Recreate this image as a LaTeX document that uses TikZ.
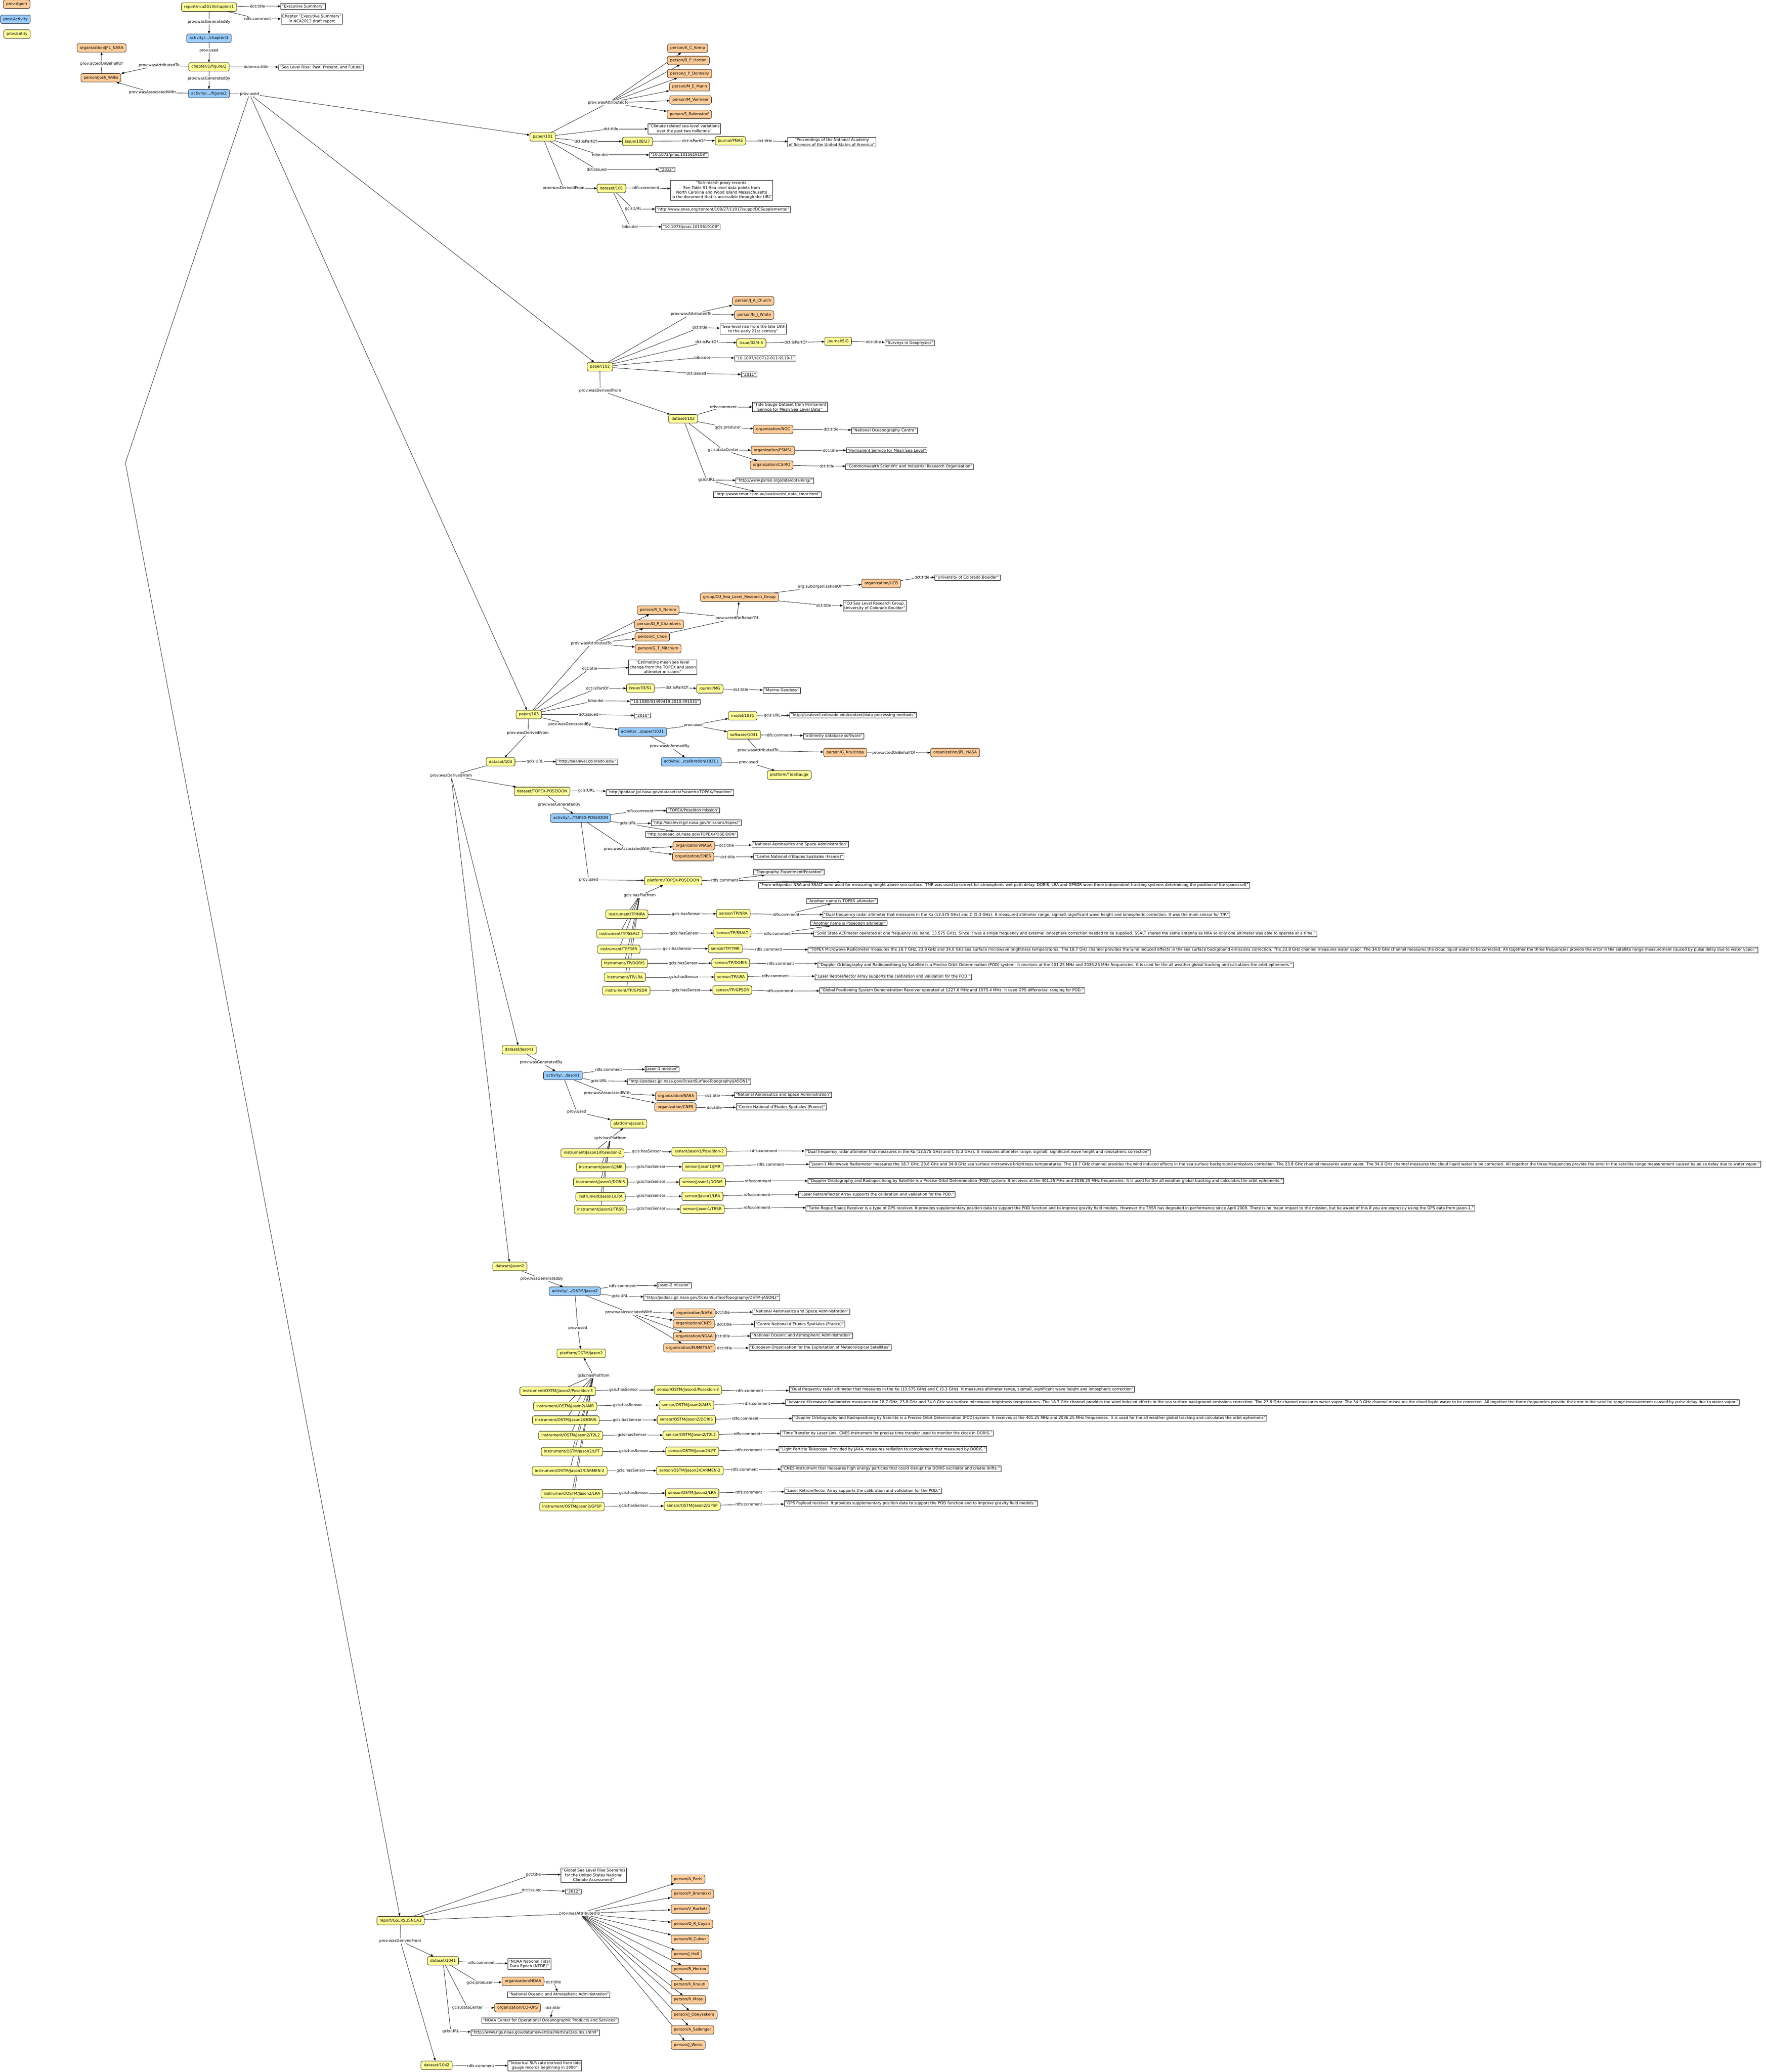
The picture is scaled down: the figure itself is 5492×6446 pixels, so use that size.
\documentclass[tikz,border=0pt]{standalone}
\usepackage{fontspec}
\setmainfont{DejaVu Sans}
\usepackage{xcolor}
\usetikzlibrary{arrows.meta}
\definecolor{agentorange}{RGB}{255, 204, 153}
\definecolor{activityblue}{RGB}{153, 204, 255}
\definecolor{entityyellow}{RGB}{255, 255, 153}
\definecolor{textblack}{RGB}{0, 0, 0}
\pgfdeclarelayer{paper}
\pgfdeclarelayer{edges}
\pgfsetlayers{paper,edges,main}
\begin{document}
\begin{tikzpicture}[
        x=0.75pt, y=-0.75pt,
        every node/.style={font=\fontsize{9}{11}\selectfont, text=textblack},
        agent/.style={rectangle, rounded corners=4pt, draw=black, line width=0.75pt, fill=agentorange, minimum height=20pt, inner xsep=6.5pt},
        activity/.style={rectangle, rounded corners=4pt, draw=black, line width=0.75pt, fill=activityblue, minimum height=20pt, inner xsep=6.5pt},
        entity/.style={rectangle, rounded corners=4pt, draw=black, line width=0.75pt, fill=entityyellow, minimum height=20pt, inner xsep=6.5pt},
        literal/.style={rectangle, draw=black, line width=0.75pt, fill=white, inner xsep=2.5pt, inner ysep=2.3pt, align=center, anchor=west},
        rel/.style={inner sep=1.5pt},
        link/.style={line width=0.75pt},
        flow/.style={-{Triangle[length=6.5pt, width=5pt]}, line width=0.75pt}
    ]

    \begin{pgfonlayer}{paper}
    \fill[white] (0,0) rectangle (5492,6446);
    \end{pgfonlayer}
    \useasboundingbox (0,0) rectangle (5492,6446);

    % Legend
    \node[agent] (leg_agent) at (52,13) {prov:Agent};
    \node[activity] (leg_activity) at (48,60) {prov:Activity};
    \node[entity] (leg_entity) at (53,106) {prov:Entity};

    % Chapter and figure
    \node[entity] (ch1) at (650,22) {report/nca2013/chapter/1};
    \node[rel] (ch1_title) at (801,19) {dct:title};
    \node[literal] (ch1_title_lit) at (873,20) {"Executive Summary"};
    \node[rel] (ch1_comment) at (801,58) {rdfs:comment};
    \node[literal] (ch1_comment_lit) at (874,59) {Chapter "Executive Summary"\\ in NCA2013 draft report};
    \node[rel] (ch1_gen) at (650,68) {prov:wasGeneratedBy};
    \node[activity] (act_ch1) at (650,119) {activity/.../chapter/1};
    \node[rel] (act_ch1_used) at (650,157) {prov:used};
    \node[entity] (fig2) at (650,208) {chapter/1/figure/2};
    \node[rel] (fig2_title) at (797,208) {dcterms:title};
    \node[literal] (fig2_title_lit) at (866,210) {"Sea Level Rise: Past, Present, and Future"};
    \node[rel] (fig2_gen) at (650,245) {prov:wasGeneratedBy};
    \node[activity] (act_fig2) at (650,291) {activity/.../figure/2};
    \node[rel] (fig2_attr) at (495,203) {prov:wasAttributedTo};
    \node[rel] (act_fig2_assoc) at (474,288) {prov:wasAssociatedWith};
    \node[agent] (willis) at (314,242) {person/Josh\_Willis};
    \node[rel] (willis_behalf) at (316,199) {prov:actedOnBehalfOf};
    \node[agent] (jpl1) at (316,149) {organization/JPL\_NASA};
    \node[rel] (act_fig2_used) at (776,292) {prov:used};
    \coordinate (used_bend) at (390,1440);

    % Paper 101
    \node[entity] (p101) at (1688,426) {paper/101};
    \node[rel] (p101_attr) at (1892,320) {prov:wasAttributedTo};
    \node[agent] (kemp) at (2139,150) {person/A\_C\_Kemp};
    \node[agent] (horton_bp) at (2141,188) {person/B\_P\_Horton};
    \node[agent] (donnelly) at (2145,229) {person/J\_P\_Donnelly};
    \node[agent] (mann) at (2145,270) {person/M\_E\_Mann};
    \node[agent] (vermeer) at (2148,311) {person/M\_Vermeer};
    \node[agent] (rahmstorf) at (2144,356) {person/S\_Rahmstorf};
    \node[rel] (p101_title) at (1900,401) {dct:title};
    \node[literal] (p101_title_lit) at (2015,401) {"Climate related sea-level variations\\ over the past two millennia"};
    \node[rel] (p101_part) at (1822,440) {dct:isPartOf};
    \node[entity] (iss101) at (1983,440) {issue/108/27};
    \node[rel] (iss101_part) at (2157,438) {dct:isPartOf};
    \node[entity] (pnas) at (2272,438) {journal/PNAS};
    \node[rel] (pnas_title) at (2379,439) {dct:title};
    \node[literal] (pnas_title_lit) at (2450,442) {"Proceedings of the National Academy\\ of Sciences of the United States of America"};
    \node[rel] (p101_doi) at (1866,482) {bibo:doi};
    \node[literal] (p101_doi_lit) at (2020,482) {"10.1073/pnas.1015619108"};
    \node[rel] (p101_issued) at (1856,527) {dct:issued};
    \node[literal] (p101_issued_lit) at (2049,527) {"2012"};
    \node[rel] (p101_der) at (1753,585) {prov:wasDerivedFrom};
    \node[entity] (ds101) at (1902,586) {dataset/101};
    \node[rel] (ds101_comment) at (2009,584) {rdfs:comment};
    \node[literal] (ds101_comment_lit) at (2085,592) {"Salt-marsh proxy records.\\ See Table S1 Sea-level data points from\\ North Carolina and Wood Island Massachusetts\\ in the document that is accessible through the URL"};
    \node[rel] (ds101_url) at (1970,650) {gcis:URL};
    \node[literal] (ds101_url_lit) at (2038,652) {"http://www.pnas.org/content/108/27/11017/suppl/DCSupplemental"};
    \node[rel] (ds101_doi) at (1960,705) {bibo:doi};
    \node[literal] (ds101_doi_lit) at (2058,706) {"10.1073/pnas.1015619108"};

    % Paper 102
    \node[entity] (p102) at (1866,1141) {paper/102};
    \node[rel] (p102_attr) at (2150,977) {prov:wasAttributedTo};
    \node[agent] (church) at (2343,936) {person/J\_A\_Church};
    \node[agent] (white) at (2346,980) {person/N\_J\_White};
    \node[rel] (p102_title) at (2177,1019) {dct:title};
    \node[literal] (p102_title_lit) at (2239,1024) {"Sea-level rise from the late 19th\\ to the early 21st century"};
    \node[rel] (p102_part) at (2198,1064) {dct:isPartOf};
    \node[entity] (iss102) at (2337,1067) {issue/32/4-5};
    \node[rel] (iss102_part) at (2475,1065) {dct:isPartOf};
    \node[entity] (sig) at (2607,1062) {journal/SIG};
    \node[rel] (sig_title) at (2717,1064) {dct:title};
    \node[literal] (sig_title_lit) at (2752,1067) {"Surveys in Geophysics"};
    \node[rel] (p102_doi) at (2184,1112) {bibo:doi};
    \node[literal] (p102_doi_lit) at (2284,1115) {"10.1007/s10712-011-9119-1"};
    \node[rel] (p102_issued) at (2166,1162) {dct:issued};
    \node[literal] (p102_issued_lit) at (2305,1165) {"2011"};
    \node[rel] (p102_der) at (1867,1215) {prov:wasDerivedFrom};
    \node[entity] (ds102) at (2125,1303) {dataset/102};
    \node[rel] (ds102_comment) at (2250,1266) {rdfs:comment};
    \node[literal] (ds102_comment_lit) at (2340,1266) {"Tide Gauge Dataset from Permanent\\ Service for Mean Sea Level Data"};
    \node[rel] (ds102_prod) at (2264,1330) {gcis:producer};
    \node[agent] (noc) at (2405,1336) {organization/NOC};
    \node[rel] (noc_title) at (2585,1336) {dct:title};
    \node[literal] (noc_title_lit) at (2648,1340) {"National Oceanography Centre"};
    \node[rel] (ds102_center) at (2250,1400) {gcis:dataCenter};
    \node[agent] (psmsl) at (2404,1401) {organization/PSMSL};
    \node[rel] (psmsl_title) at (2583,1401) {dct:title};
    \node[literal] (psmsl_title_lit) at (2632,1401) {"Permanent Service for Mean Sea Level"};
    \node[agent] (csiro) at (2400,1447) {organization/CSIRO};
    \node[rel] (csiro_title) at (2572,1450) {dct:title};
    \node[literal] (csiro_title_lit) at (2630,1452) {"Commonwealth Scientific and Industrial Research Organisation"};
    \node[rel] (ds102_url) at (2198,1493) {gcis:URL};
    \node[literal] (ds102_url_lit1) at (2288,1496) {"http://www.psmsl.org/data/obtaining/"};
    \node[literal] (ds102_url_lit2) at (2219,1538) {"http://www.cmar.csiro.au/sealevel/sl\_data\_cmar.html"};

    % Paper 103
    \node[entity] (p103) at (1645,2223) {paper/103};
    \node[rel] (p103_attr) at (1839,2002) {prov:wasAttributedTo};
    \node[agent] (nerem) at (2047,1898) {person/R\_S\_Nerem};
    \node[agent] (chambers) at (2050,1942) {person/D\_P\_Chambers};
    \node[agent] (choe) at (2029,1981) {person/C\_Choe};
    \node[agent] (mitchum) at (2047,2018) {person/G\_T\_Mitchum};
    \node[rel] (cu_behalf) at (2292,1923) {prov:actedOnBehalfOf};
    \node[agent] (cugroup) at (2300,1858) {group/CU\_Sea\_Level\_Research\_Group};
    \node[rel] (cugroup_sub) at (2550,1826) {org:subOrganizationOf};
    \node[agent] (ucb) at (2741,1815) {organization/UCB};
    \node[rel] (ucb_title) at (2868,1796) {dct:title};
    \node[literal] (ucb_title_lit) at (2907,1797) {"University of Colorado Boulder"};
    \node[rel] (cugroup_title) at (2562,1883) {dct:title};
    \node[literal] (cugroup_title_lit) at (2622,1885) {"CU Sea Level Research Group,\\ University of Colorado Boulder"};
    \node[rel] (p103_title) at (1834,2080) {dct:title};
    \node[literal] (p103_title_lit) at (1955,2075) {"Estimating mean sea level\\ change from the TOPEX and Jason\\ altimeter missions"};
    \node[rel] (p103_part) at (1858,2142) {dct:isPartOf};
    \node[entity] (iss103) at (1992,2141) {issue/33/S1};
    \node[rel] (iss103_part) at (2105,2139) {dct:isPartOf};
    \node[entity] (mg) at (2208,2143) {journal/MG};
    \node[rel] (mg_title) at (2304,2145) {dct:title};
    \node[literal] (mg_title_lit) at (2373,2148) {"Marine Geodesy"};
    \node[rel] (p103_doi) at (1853,2180) {bibo:doi};
    \node[literal] (p103_doi_lit) at (1960,2183) {"10.1080/01490419.2010.491031"};
    \node[rel] (p103_issued) at (1831,2223) {dct:issued};
    \node[literal] (p103_issued_lit) at (1973,2226) {"2010"};
    \node[rel] (p103_gen) at (1772,2254) {prov:wasGeneratedBy};
    \node[activity] (act_p1031) at (1998,2277) {activity/.../paper/1031};
    \node[rel] (act_p1031_used) at (2156,2256) {prov:used};
    \node[entity] (model1031) at (2310,2227) {model/1031};
    \node[rel] (model1031_url) at (2402,2226) {gcis:URL};
    \node[literal] (model1031_url_lit) at (2456,2225) {"http://sealevel.colorado.edu/content/data-processing-methods"};
    \node[entity] (soft1031) at (2314,2286) {software/1031};
    \node[rel] (soft1031_comment) at (2423,2287) {rdfs:comment};
    \node[literal] (soft1031_comment_lit) at (2498,2290) {"altimetry database software"};
    \node[rel] (soft1031_attr) at (2358,2335) {prov:wasAttributedTo};
    \node[agent] (kruizinga) at (2629,2341) {person/G\_Kruizinga};
    \node[rel] (kruizinga_behalf) at (2780,2342) {prov:actedOnBehalfOf};
    \node[agent] (jpl2) at (2971,2341) {organization/JPL\_NASA};
    \node[rel] (act_p1031_inf) at (2083,2322) {prov:wasInformedBy};
    \node[activity] (act_cal) at (2150,2370) {activity/.../calibration/10311};
    \node[rel] (act_cal_used) at (2328,2372) {prov:used};
    \node[entity] (tidegauge) at (2455,2411) {platform/TideGauge};
    \node[rel] (p103_der) at (1642,2280) {prov:wasDerivedFrom};
    \node[entity] (ds103) at (1557,2370) {dataset/103};
    \node[rel] (ds103_url) at (1664,2369) {gcis:URL};
    \node[literal] (ds103_url_lit) at (1729,2370) {"http://sealevel.colorado.edu/"};
    \node[rel] (ds103_der) at (1403,2413) {prov:wasDerivedFrom};

    % TOPEX/Poseidon mission
    \node[entity] (ds_tp) at (1686,2462) {dataset/TOPEX-POSEIDON};
    \node[rel] (ds_tp_url) at (1824,2460) {gcis:URL};
    \node[literal] (ds_tp_url_lit) at (1885,2465) {"http://podaac.jpl.nasa.gov/datasetlist?search=TOPEX/Poseidon"};
    \node[rel] (ds_tp_gen) at (1739,2504) {prov:wasGeneratedBy};
    \node[activity] (act_tp) at (1806,2545) {activity/.../TOPEX-POSEIDON};
    \node[rel] (act_tp_comment) at (1991,2523) {rdfs:comment};
    \node[literal] (act_tp_comment_lit) at (2073,2521) {"TOPEX/Poseidon mission"};
    \node[rel] (act_tp_url) at (1953,2562) {gcis:URL};
    \node[literal] (act_tp_url_lit1) at (2025,2560) {"http://sealevel.jpl.nasa.gov/missions/topex/"};
    \node[literal] (act_tp_url_lit2) at (2007,2596) {"http://podaac.jpl.nasa.gov/TOPEX-POSEIDON"};
    \node[rel] (act_tp_assoc) at (1951,2641) {prov:wasAssociatedWith};
    \node[agent] (nasa_tp) at (2158,2631) {organization/NASA};
    \node[rel] (nasa_tp_title) at (2260,2630) {dct:title};
    \node[literal] (nasa_tp_title_lit) at (2338,2627) {"National Aeronautics and Space Administration"};
    \node[agent] (cnes_tp) at (2156,2665) {organization/CNES};
    \node[rel] (cnes_tp_title) at (2264,2666) {dct:title};
    \node[literal] (cnes_tp_title_lit) at (2344,2665) {"Centre National d’Études Spatiales (France)"};
    \node[rel] (act_tp_used) at (1831,2737) {prov:used};
    \node[entity] (plat_tp) at (2094,2740) {platform/TOPEX-POSEIDON};
    \node[rel] (plat_tp_comment) at (2254,2738) {rdfs:comment};
    \node[literal] (plat_tp_comment_lit1) at (2344,2713) {"Topography Experiment/Poseidon"};
    \node[literal] (plat_tp_comment_lit2) at (2359,2754) {"From wikipedia: NRA and SSALT were used for measuring height above sea surface. TMR was used to correct for atmospheric wet path delay. DORIS, LRA and GPSDR were three independent tracking systems determining the position of the spacecraft"};
    \node[rel] (tp_platfrom) at (1990,2786) {gcis:hasPlatfrom};

    \node[entity] (ins_tp_nra) at (1950,2844) {instrument/TP/NRA};
    \node[rel] (ins_tp_nra_has) at (2135,2844) {gcis:hasSensor};
    \node[entity] (sen_tp_nra) at (2281,2842) {sensor/TP/NRA};
    \node[rel] (sen_tp_nra_comment) at (2445,2845) {rdfs:comment};
    \node[literal] (sen_tp_nra_lit1) at (2508,2803) {"Another name is TOPEX altimeter"};
    \node[literal] (sen_tp_nra_lit2) at (2559,2846) {"Dual frequency radar altimeter that measures in the Ku (13.575 GHz) and C (5.3 GHz). It measured altimeter range, sigma0, significant wave height and ionospheric correction. It was the main sensor for T/P."};

    \node[entity] (ins_tp_ssalt) at (1927,2905) {instrument/TP/SSALT};
    \node[rel] (ins_tp_ssalt_has) at (2128,2904) {gcis:hasSensor};
    \node[entity] (sen_tp_ssalt) at (2278,2902) {sensor/TP/SSALT};
    \node[rel] (sen_tp_ssalt_comment) at (2418,2904) {rdfs:comment};
    \node[literal] (sen_tp_ssalt_lit1) at (2520,2872) {"Another name is Poseodon altimeter"};
    \node[literal] (sen_tp_ssalt_lit2) at (2531,2905) {"Solid State ALTimeter operated at one frequency (Ku band, 13.575 GHz). Since it was a single frequency and external ionosphere correction needed to be supplied. SSALT shared the same antenna as NRA so only one altimeter was able to operate at a time."};

    \node[entity] (ins_tp_tmr) at (1925,2953) {instrument/TP/TMR};
    \node[rel] (ins_tp_tmr_has) at (2107,2952) {gcis:hasSensor};
    \node[entity] (sen_tp_tmr) at (2256,2951) {sensor/TP/TMR};
    \node[rel] (sen_tp_tmr_comment) at (2391,2954) {rdfs:comment};
    \node[literal] (sen_tp_tmr_lit) at (2513,2955) {"TOPEX Microwave Radiometer measures the 18.7 GHz, 23.8 GHz and 34.0 GHz sea surface microwave brightness temperatures. The 18.7 GHz channel provides the wind induced effects in the sea surface background emissions correction. The 23.8 GHz channel measures water vapor. The 34.0 GHz channel measures the cloud liquid water to be corrected. All together the three frequencies provide the error in the satellite range measurement caused by pulse delay due to water vapor."};

    \node[entity] (ins_tp_doris) at (1942,2997) {instrument/TP/DORIS};
    \node[rel] (ins_tp_doris_has) at (2125,2997) {gcis:hasSensor};
    \node[entity] (sen_tp_doris) at (2273,2996) {sensor/TP/DORIS};
    \node[rel] (sen_tp_doris_comment) at (2428,2997) {rdfs:comment};
    \node[literal] (sen_tp_doris_lit) at (2543,3002) {"Doppler Orbitography and Radiopositiong by Satellite is a Precise Orbit Determination (POD) system. It receives at the 401.25 MHz and 2036.25 MHz frequencies. It is used for the all weather global tracking and calculates the orbit ephemeris."};

    \node[entity] (ins_tp_lra) at (1944,3040) {instrument/TP/LRA};
    \node[rel] (ins_tp_lra_has) at (2127,3040) {gcis:hasSensor};
    \node[entity] (sen_tp_lra) at (2274,3039) {sensor/TP/LRA};
    \node[rel] (sen_tp_lra_comment) at (2412,3036) {rdfs:comment};
    \node[literal] (sen_tp_lra_lit) at (2534,3039) {"Laser Retroreflector Array supports the calibration and validation for the POD."};

    \node[entity] (ins_tp_gpsdr) at (1948,3082) {instrument/TP/GPSDR};
    \node[rel] (ins_tp_gpsdr_has) at (2134,3081) {gcis:hasSensor};
    \node[entity] (sen_tp_gpsdr) at (2278,3080) {sensor/TP/GPSDR};
    \node[rel] (sen_tp_gpsdr_comment) at (2426,3083) {rdfs:comment};
    \node[literal] (sen_tp_gpsdr_lit) at (2549,3081) {"Global Positioning System Demonstration Receiver operated at 1227.6 MHz and 1575.4 MHz. It used GPS differential ranging for POD."};

    % Jason-1 mission
    \node[entity] (ds_j1) at (1615,3266) {dataset/Jason1};
    \node[rel] (ds_j1_gen) at (1683,3306) {prov:wasGeneratedBy};
    \node[activity] (act_j1) at (1751,3346) {activity/.../Jason1};
    \node[rel] (act_j1_comment) at (1893,3328) {rdfs:comment};
    \node[literal] (act_j1_comment_lit) at (2006,3326) {Jason-1 mission"};
    \node[rel] (act_j1_url) at (1863,3363) {gcis:URL};
    \node[literal] (act_j1_url_lit) at (1952,3365) {"http://podaac.jpl.nasa.gov/OceanSurfaceTopography/JASON1"};
    \node[rel] (act_j1_assoc) at (1889,3401) {prov:wasAssociatedWith};
    \node[agent] (nasa_j1) at (2103,3410) {organization/NASA};
    \node[rel] (nasa_j1_title) at (2217,3409) {dct:title};
    \node[literal] (nasa_j1_title_lit) at (2285,3406) {"National Aeronautics and Space Administration"};
    \node[agent] (cnes_j1) at (2101,3444) {organization/CNES};
    \node[rel] (cnes_j1_title) at (2222,3446) {dct:title};
    \node[literal] (cnes_j1_title_lit) at (2289,3443) {"Centre National d’Études Spatiales (France)"};
    \node[rel] (act_j1_used) at (1794,3459) {prov:used};
    \node[entity] (plat_j1) at (1956,3496) {platform/Jason1};
    \node[rel] (j1_platfrom) at (1899,3541) {gcis:hasPlatfrom};

    \node[entity] (ins_j1_pos) at (1843,3587) {instrument/Jason1/Poseidon-2};
    \node[rel] (ins_j1_pos_has) at (2011,3583) {gcis:hasSensor};
    \node[entity] (sen_j1_pos) at (2175,3583) {sensor/Jason1/Poseidon-2};
    \node[rel] (sen_j1_pos_comment) at (2376,3580) {rdfs:comment};
    \node[literal] (sen_j1_pos_lit) at (2503,3584) {"Dual frequency radar altimeter that measures in the Ku (13.575 GHz) and C (5.3 GHz). It measures altimeter range, sigma0, significant wave height and ionospheric correction"};

    \node[entity] (ins_j1_jmr) at (1869,3631) {instrument/Jason1/JMR};
    \node[rel] (ins_j1_jmr_has) at (2025,3630) {gcis:hasSensor};
    \node[entity] (sen_j1_jmr) at (2186,3630) {sensor/Jason1/JMR};
    \node[rel] (sen_j1_jmr_comment) at (2397,3622) {rdfs:comment};
    \node[literal] (sen_j1_jmr_lit) at (2517,3622) {"Jason-1 Microwave Radiometer measures the 18.7 GHz, 23.8 GHz and 34.0 GHz sea surface microwave brightness temperatures. The 18.7 GHz channel provides the wind induced effects in the sea surface background emissions correction. The 23.8 GHz channel measures water vapor. The 34.0 GHz channel measures the cloud liquid water to be corrected. All together the three frequencies provide the error in the satellite range measurement caused by pulse delay due to water vapor."};

    \node[entity] (ins_j1_doris) at (1868,3678) {instrument/Jason1/DORIS};
    \node[rel] (ins_j1_doris_has) at (2025,3677) {gcis:hasSensor};
    \node[entity] (sen_j1_doris) at (2185,3678) {sensor/Jason1/DORIS};
    \node[rel] (sen_j1_doris_comment) at (2358,3674) {rdfs:comment};
    \node[literal] (sen_j1_doris_lit) at (2513,3674) {"Doppler Orbitography and Radiopositiong by Satellite is a Precise Orbit Determination (POD) system. It receives at the 401.25 MHz and 2036.25 MHz frequencies. It is used for the all weather global tracking and calculates the orbit ephemeris."};

    \node[entity] (ins_j1_lra) at (1868,3723) {instrument/Jason1/LRA};
    \node[rel] (ins_j1_lra_has) at (2025,3721) {gcis:hasSensor};
    \node[entity] (sen_j1_lra) at (2185,3722) {sensor/Jason1/LRA};
    \node[rel] (sen_j1_lra_comment) at (2355,3717) {rdfs:comment};
    \node[literal] (sen_j1_lra_lit) at (2483,3716) {"Laser Retroreflector Array supports the calibration and validation for the POD."};

    \node[entity] (ins_j1_trsr) at (1868,3763) {instrument/Jason1/TRSR};
    \node[rel] (ins_j1_trsr_has) at (2025,3761) {gcis:hasSensor};
    \node[entity] (sen_j1_trsr) at (2185,3762) {sensor/Jason1/TRSR};
    \node[rel] (sen_j1_trsr_comment) at (2355,3757) {rdfs:comment};
    \node[literal] (sen_j1_trsr_lit) at (2506,3759) {"Turbo Rogue Space Receiver is a type of GPS receiver. It provides supplementary position data to support the POD function and to improve gravity field models. However the TRSR has degraded in performance since April 2009. There is no major impact to the mission, but be aware of this if you are expressly using the GPS data from Jason-1."};

    % OSTM/Jason-2 mission
    \node[entity] (ds_j2) at (1586,3940) {dataset/Jason2};
    \node[rel] (ds_j2_gen) at (1685,3978) {prov:wasGeneratedBy};
    \node[activity] (act_j2) at (1788,4017) {activity/.../OSTM/Jason2};
    \node[rel] (act_j2_comment) at (1936,4000) {rdfs:comment};
    \node[literal] (act_j2_comment_lit) at (2044,3999) {Jason-2 mission"};
    \node[rel] (act_j2_url) at (1928,4033) {gcis:URL};
    \node[literal] (act_j2_url_lit) at (2002,4037) {"http://podaac.jpl.nasa.gov/OceanSurfaceTopography/OSTM-JASON2"};
    \node[rel] (act_j2_assoc) at (1956,4083) {prov:wasAssociatedWith};
    \node[agent] (nasa_j2) at (2160,4085) {organization/NASA};
    \node[rel] (nasa_j2_title) at (2247,4083) {dct:title};
    \node[literal] (nasa_j2_title_lit) at (2341,4080) {"National Aeronautics and Space Administration"};
    \node[agent] (cnes_j2) at (2158,4118) {organization/CNES};
    \node[rel] (cnes_j2_title) at (2253,4120) {dct:title};
    \node[literal] (cnes_j2_title_lit) at (2346,4119) {"Centre National d’Études Spatiales (France)"};
    \node[agent] (noaa_j2) at (2160,4158) {organization/NOAA};
    \node[rel] (noaa_j2_title) at (2248,4157) {dct:title};
    \node[literal] (noaa_j2_title_lit) at (2334,4155) {"National Oceanic and Atmospheric Administration"};
    \node[agent] (eumetsat) at (2144,4193) {organization/EUMETSAT};
    \node[rel] (eumetsat_title) at (2254,4194) {dct:title};
    \node[literal] (eumetsat_title_lit) at (2329,4192) {"European Organisation for the Exploitation of Meteorological Satellites"};
    \node[rel] (act_j2_used) at (1797,4132) {prov:used};
    \node[entity] (plat_j2) at (1808,4210) {platform/OSTM/Jason2};
    \node[rel] (j2_platfrom) at (1846,4280) {gcis:hasPlatfrom};

    \node[entity] (ins_j2_pos) at (1735,4328) {instrument/OSTM/Jason2/Poseidon-3};
    \node[rel] (ins_j2_pos_has) at (1940,4324) {gcis:hasSensor};
    \node[entity] (sen_j2_pos) at (2140,4324) {sensor/OSTM/Jason2/Poseidon-3};
    \node[rel] (sen_j2_pos_comment) at (2332,4327) {rdfs:comment};
    \node[literal] (sen_j2_pos_lit) at (2454,4322) {"Dual frequency radar altimeter that measures in the Ku (13.575 GHz) and C (5.3 GHz). It measures altimeter range, sigma0, significant wave height and ionospheric correction"};

    \node[entity] (ins_j2_amr) at (1758,4375) {instrument/OSTM/Jason2/AMR};
    \node[rel] (ins_j2_amr_has) at (1952,4371) {gcis:hasSensor};
    \node[entity] (sen_j2_amr) at (2135,4371) {sensor/OSTM/Jason2/AMR};
    \node[rel] (sen_j2_amr_comment) at (2354,4366) {rdfs:comment};
    \node[literal] (sen_j2_amr_lit) at (2443,4363) {"Advance Microwave Radiometer measures the 18.7 GHz, 23.8 GHz and 34.0 GHz sea surface microwave brightness temperatures. The 18.7 GHz channel provides the wind induced effects in the sea surface background emissions correction. The 23.8 GHz channel measures water vapor. The 34.0 GHz channel measures the cloud liquid water to be corrected. All together the three frequencies provide the error in the satellite range measurement caused by pulse delay due to water vapor."};

    \node[entity] (ins_j2_doris) at (1760,4418) {instrument/OSTM/Jason2/DORIS};
    \node[rel] (ins_j2_doris_has) at (1951,4418) {gcis:hasSensor};
    \node[entity] (sen_j2_doris) at (2135,4417) {sensor/OSTM/Jason2/DORIS};
    \node[rel] (sen_j2_doris_comment) at (2318,4413) {rdfs:comment};
    \node[literal] (sen_j2_doris_lit) at (2464,4412) {"Doppler Orbitography and Radiopositiong by Satellite is a Precise Orbit Determination (POD) system. It receives at the 401.25 MHz and 2036.25 MHz frequencies. It is used for the all weather global tracking and calculates the orbit ephemeris"};

    \node[entity] (ins_j2_t2l2) at (1775,4466) {instrument/OSTM/Jason2/T2L2};
    \node[rel] (ins_j2_t2l2_has) at (1966,4464) {gcis:hasSensor};
    \node[entity] (sen_j2_t2l2) at (2149,4465) {sensor/OSTM/Jason2/T2L2};
    \node[rel] (sen_j2_t2l2_comment) at (2324,4460) {rdfs:comment};
    \node[literal] (sen_j2_t2l2_lit) at (2427,4459) {"Time Transfer by Laser Link. CNES instrument for precise time transfer used to monitor the clock in DORIS."};

    \node[entity] (ins_j2_lpt) at (1779,4516) {instrument/OSTM/Jason2/LPT};
    \node[rel] (ins_j2_lpt_has) at (1971,4515) {gcis:hasSensor};
    \node[entity] (sen_j2_lpt) at (2153,4515) {sensor/OSTM/Jason2/LPT};
    \node[rel] (sen_j2_lpt_comment) at (2329,4511) {rdfs:comment};
    \node[literal] (sen_j2_lpt_lit) at (2423,4509) {"Light Particle Telescope. Provided by JAXA, measures radiation to complement that measured by DORIS."};

    \node[entity] (ins_j2_carmen) at (1772,4576) {instrument/OSTM/Jason2/CARMEN-2};
    \node[rel] (ins_j2_carmen_has) at (1963,4575) {gcis:hasSensor};
    \node[entity] (sen_j2_carmen) at (2146,4575) {sensor/OSTM/Jason2/CARMEN-2};
    \node[rel] (sen_j2_carmen_comment) at (2316,4571) {rdfs:comment};
    \node[literal] (sen_j2_carmen_lit) at (2429,4569) {"CNES instrument that measures high energy particles that could disrupt the DORIS oscillator and create drifts."};

    \node[entity] (ins_j2_lra) at (1779,4647) {instrument/OSTM/Jason2/LRA};
    \node[rel] (ins_j2_lra_has) at (1971,4645) {gcis:hasSensor};
    \node[entity] (sen_j2_lra) at (2153,4645) {sensor/OSTM/Jason2/LRA};
    \node[rel] (sen_j2_lra_comment) at (2329,4642) {rdfs:comment};
    \node[literal] (sen_j2_lra_lit) at (2440,4638) {"Laser Retroreflector Array supports the calibration and validation for the POD."};

    \node[entity] (ins_j2_gpsp) at (1779,4687) {instrument/OSTM/Jason2/GPSP};
    \node[rel] (ins_j2_gpsp_has) at (1971,4685) {gcis:hasSensor};
    \node[entity] (sen_j2_gpsp) at (2153,4685) {sensor/OSTM/Jason2/GPSP};
    \node[rel] (sen_j2_gpsp_comment) at (2329,4680) {rdfs:comment};
    \node[literal] (sen_j2_gpsp_lit) at (2439,4677) {"GPS Payload receiver. It provides supplementary position data to support the POD function and to improve gravity field models."};

    % Sea level rise scenarios report
    \node[entity] (gslr) at (1246,5975) {report/GSLRSUSNCA3};
    \node[rel] (gslr_title) at (1659,5831) {dct:title};
    \node[literal] (gslr_title_lit) at (1744,5833) {"Global Sea Level Rise Scenarios\\ for the United States National\\ Climate Assessment"};
    \node[rel] (gslr_issued) at (1654,5880) {dct:issued};
    \node[literal] (gslr_issued_lit) at (1758,5884) {"2012"};
    \node[rel] (gslr_attr) at (1803,5953) {prov:wasAttributedTo};
    \node[agent, anchor=west] (paris) at (2087,5846) {person/A\_Paris};
    \node[agent, anchor=west] (bromirski) at (2087,5892) {person/P\_Bromirski};
    \node[agent, anchor=west] (burkett) at (2087,5939) {person/V\_Burkett};
    \node[agent, anchor=west] (cayan) at (2087,5986) {person/D\_R\_Cayan};
    \node[agent, anchor=west] (culver) at (2087,6033) {person/M\_Culver};
    \node[agent, anchor=west] (hall) at (2087,6080) {person/J\_Hall};
    \node[agent, anchor=west] (horton_r) at (2087,6127) {person/R\_Horton};
    \node[agent, anchor=west] (knuuti) at (2087,6174) {person/K\_Knuuti};
    \node[agent, anchor=west] (moss) at (2087,6221) {person/R\_Moss};
    \node[agent, anchor=west] (obeysekera) at (2087,6268) {person/J\_Obeysekera};
    \node[agent, anchor=west] (sallenger) at (2087,6315) {person/A\_Sallenger};
    \node[agent, anchor=west] (weiss) at (2087,6362) {person/J\_Weiss};
    \node[rel] (gslr_der) at (1245,6038) {prov:wasDerivedFrom};
    \node[entity] (ds1041) at (1378,6100) {dataset/1041};
    \node[rel] (ds1041_comment) at (1497,6106) {rdfs:comment};
    \node[literal] (ds1041_comment_lit) at (1579,6110) {"NOAA National Tidal\\ Data Epoch (NTDE)"};
    \node[rel] (ds1041_prod) at (1492,6169) {gcis:producer};
    \node[agent] (noaa_b) at (1627,6164) {organization/NOAA};
    \node[rel] (noaa_b_title) at (1722,6166) {dct:title};
    \node[literal, anchor=center] (noaa_b_title_lit) at (1738,6205) {"National Oceanic and Atmospheric Administration"};
    \node[rel] (ds1041_center) at (1454,6246) {gcis:dataCenter};
    \node[agent] (coops) at (1610,6246) {organization/CO-OPS};
    \node[rel] (coops_title) at (1720,6246) {dct:title};
    \node[literal, anchor=center] (coops_title_lit) at (1711,6286) {"NOAA Center for Operational Oceanographic Products and Services"};
    \node[rel] (ds1041_url) at (1402,6320) {gcis:URL};
    \node[literal] (ds1041_url_lit) at (1464,6324) {"http://www.ngs.noaa.gov/datums/vertical/VerticalDatums.shtml"};
    \node[entity] (ds1042) at (1358,6425) {dataset/1042};
    \node[rel] (ds1042_comment) at (1495,6426) {rdfs:comment};
    \node[literal] (ds1042_comment_lit) at (1579,6426) {"historical SLR rate derived from tide\\ gauge records beginning in 1900"};

    \begin{pgfonlayer}{edges}
    % Chapter and figure
    \draw[link] (ch1) -- (ch1_title); \draw[flow] (ch1_title) -- (ch1_title_lit);
    \draw[link] (ch1) -- (ch1_comment); \draw[flow] (ch1_comment) -- (ch1_comment_lit);
    \draw[link] (ch1) -- (ch1_gen); \draw[flow] (ch1_gen) -- (act_ch1);
    \draw[link] (act_ch1) -- (act_ch1_used); \draw[flow] (act_ch1_used) -- (fig2);
    \draw[link] (fig2) -- (fig2_title); \draw[flow] (fig2_title) -- (fig2_title_lit);
    \draw[link] (fig2) -- (fig2_gen); \draw[flow] (fig2_gen) -- (act_fig2);
    \draw[link] (fig2) -- (fig2_attr); \draw[flow] (fig2_attr) -- (willis);
    \draw[link] (act_fig2) -- (act_fig2_assoc); \draw[flow] (act_fig2_assoc) -- (willis);
    \draw[link] (willis) -- (willis_behalf); \draw[flow] (willis_behalf) -- (jpl1);
    \draw[link] (act_fig2) -- (act_fig2_used);
    \draw[flow] (act_fig2_used) -- (p101);
    \draw[flow] (act_fig2_used) -- (p102);
    \draw[flow] (act_fig2_used) -- (p103);
    \draw[flow] (act_fig2_used) -- (used_bend) -- (gslr);

    % Paper 101
    \draw[link] (p101) -- (p101_attr);
    \draw[flow] (p101_attr) -- (kemp);
    \draw[flow] (p101_attr) -- (horton_bp);
    \draw[flow] (p101_attr) -- (donnelly);
    \draw[flow] (p101_attr) -- (mann);
    \draw[flow] (p101_attr) -- (vermeer);
    \draw[flow] (p101_attr) -- (rahmstorf);
    \draw[link] (p101) -- (p101_title); \draw[flow] (p101_title) -- (p101_title_lit);
    \draw[link] (p101) -- (p101_part); \draw[flow] (p101_part) -- (iss101);
    \draw[link] (iss101) -- (iss101_part); \draw[flow] (iss101_part) -- (pnas);
    \draw[link] (pnas) -- (pnas_title); \draw[flow] (pnas_title) -- (pnas_title_lit);
    \draw[link] (p101) -- (p101_doi); \draw[flow] (p101_doi) -- (p101_doi_lit);
    \draw[link] (p101) -- (p101_issued); \draw[flow] (p101_issued) -- (p101_issued_lit);
    \draw[link] (p101) -- (p101_der); \draw[flow] (p101_der) -- (ds101);
    \draw[link] (ds101) -- (ds101_comment); \draw[flow] (ds101_comment) -- (ds101_comment_lit);
    \draw[link] (ds101) -- (ds101_url); \draw[flow] (ds101_url) -- (ds101_url_lit);
    \draw[link] (ds101) -- (ds101_doi); \draw[flow] (ds101_doi) -- (ds101_doi_lit);

    % Paper 102
    \draw[link] (p102) -- (p102_attr);
    \draw[flow] (p102_attr) -- (church);
    \draw[flow] (p102_attr) -- (white);
    \draw[link] (p102) -- (p102_title); \draw[flow] (p102_title) -- (p102_title_lit);
    \draw[link] (p102) -- (p102_part); \draw[flow] (p102_part) -- (iss102);
    \draw[link] (iss102) -- (iss102_part); \draw[flow] (iss102_part) -- (sig);
    \draw[link] (sig) -- (sig_title); \draw[flow] (sig_title) -- (sig_title_lit);
    \draw[link] (p102) -- (p102_doi); \draw[flow] (p102_doi) -- (p102_doi_lit);
    \draw[link] (p102) -- (p102_issued); \draw[flow] (p102_issued) -- (p102_issued_lit);
    \draw[link] (p102) -- (p102_der); \draw[flow] (p102_der) -- (ds102);
    \draw[link] (ds102) -- (ds102_comment); \draw[flow] (ds102_comment) -- (ds102_comment_lit);
    \draw[link] (ds102) -- (ds102_prod); \draw[flow] (ds102_prod) -- (noc);
    \draw[link] (noc) -- (noc_title); \draw[flow] (noc_title) -- (noc_title_lit);
    \draw[link] (ds102) -- (ds102_center);
    \draw[flow] (ds102_center) -- (psmsl);
    \draw[flow] (ds102_center) -- (csiro);
    \draw[link] (psmsl) -- (psmsl_title); \draw[flow] (psmsl_title) -- (psmsl_title_lit);
    \draw[link] (csiro) -- (csiro_title); \draw[flow] (csiro_title) -- (csiro_title_lit);
    \draw[link] (ds102) -- (ds102_url);
    \draw[flow] (ds102_url) -- (ds102_url_lit1);
    \draw[flow] (ds102_url) -- (ds102_url_lit2);

    % Paper 103
    \draw[link] (p103) -- (p103_attr);
    \draw[flow] (p103_attr) -- (nerem);
    \draw[flow] (p103_attr) -- (chambers);
    \draw[flow] (p103_attr) -- (choe);
    \draw[flow] (p103_attr) -- (mitchum);
    \draw[link] (nerem) -- (cu_behalf);
    \draw[link] (choe) -- (cu_behalf);
    \draw[flow] (cu_behalf) -- (cugroup);
    \draw[link] (cugroup) -- (cugroup_sub); \draw[flow] (cugroup_sub) -- (ucb);
    \draw[link] (ucb) -- (ucb_title); \draw[flow] (ucb_title) -- (ucb_title_lit);
    \draw[link] (cugroup) -- (cugroup_title); \draw[flow] (cugroup_title) -- (cugroup_title_lit);
    \draw[link] (p103) -- (p103_title); \draw[flow] (p103_title) -- (p103_title_lit);
    \draw[link] (p103) -- (p103_part); \draw[flow] (p103_part) -- (iss103);
    \draw[link] (iss103) -- (iss103_part); \draw[flow] (iss103_part) -- (mg);
    \draw[link] (mg) -- (mg_title); \draw[flow] (mg_title) -- (mg_title_lit);
    \draw[link] (p103) -- (p103_doi); \draw[flow] (p103_doi) -- (p103_doi_lit);
    \draw[link] (p103) -- (p103_issued); \draw[flow] (p103_issued) -- (p103_issued_lit);
    \draw[link] (p103) -- (p103_gen); \draw[flow] (p103_gen) -- (act_p1031);
    \draw[link] (act_p1031) -- (act_p1031_used);
    \draw[flow] (act_p1031_used) -- (model1031);
    \draw[flow] (act_p1031_used) -- (soft1031);
    \draw[link] (model1031) -- (model1031_url); \draw[flow] (model1031_url) -- (model1031_url_lit);
    \draw[link] (soft1031) -- (soft1031_comment); \draw[flow] (soft1031_comment) -- (soft1031_comment_lit);
    \draw[link] (soft1031) -- (soft1031_attr); \draw[flow] (soft1031_attr) -- (kruizinga);
    \draw[link] (kruizinga) -- (kruizinga_behalf); \draw[flow] (kruizinga_behalf) -- (jpl2);
    \draw[link] (act_p1031) -- (act_p1031_inf); \draw[flow] (act_p1031_inf) -- (act_cal);
    \draw[link] (act_cal) -- (act_cal_used); \draw[flow] (act_cal_used) -- (tidegauge);
    \draw[link] (p103) -- (p103_der); \draw[flow] (p103_der) -- (ds103);
    \draw[link] (ds103) -- (ds103_url); \draw[flow] (ds103_url) -- (ds103_url_lit);
    \draw[link] (ds103) -- (ds103_der);
    \draw[flow] (ds103_der) -- (ds_tp);
    \draw[flow] (ds103_der) -- (ds_j1);
    \draw[flow] (ds103_der) -- (ds_j2);

    % TOPEX/Poseidon mission
    \draw[link] (ds_tp) -- (ds_tp_url); \draw[flow] (ds_tp_url) -- (ds_tp_url_lit);
    \draw[link] (ds_tp) -- (ds_tp_gen); \draw[flow] (ds_tp_gen) -- (act_tp);
    \draw[link] (act_tp) -- (act_tp_comment); \draw[flow] (act_tp_comment) -- (act_tp_comment_lit);
    \draw[link] (act_tp) -- (act_tp_url);
    \draw[flow] (act_tp_url) -- (act_tp_url_lit1);
    \draw[flow] (act_tp_url) -- (act_tp_url_lit2);
    \draw[link] (act_tp) -- (act_tp_assoc);
    \draw[flow] (act_tp_assoc) -- (nasa_tp);
    \draw[flow] (act_tp_assoc) -- (cnes_tp);
    \draw[link] (nasa_tp) -- (nasa_tp_title); \draw[flow] (nasa_tp_title) -- (nasa_tp_title_lit);
    \draw[link] (cnes_tp) -- (cnes_tp_title); \draw[flow] (cnes_tp_title) -- (cnes_tp_title_lit);
    \draw[link] (act_tp) -- (act_tp_used); \draw[flow] (act_tp_used) -- (plat_tp);
    \draw[link] (plat_tp) -- (plat_tp_comment);
    \draw[flow] (plat_tp_comment) -- (plat_tp_comment_lit1);
    \draw[flow] (plat_tp_comment) -- (plat_tp_comment_lit2);
    \draw[flow] (tp_platfrom) -- (plat_tp);
    \draw[link] (ins_tp_nra) -- (tp_platfrom);
    \draw[link] (ins_tp_ssalt) -- (tp_platfrom);
    \draw[link] (ins_tp_tmr) -- (tp_platfrom);
    \draw[link] (ins_tp_doris) -- (tp_platfrom);
    \draw[link] (ins_tp_lra) -- (tp_platfrom);
    \draw[link] (ins_tp_gpsdr) -- (tp_platfrom);
    \draw[link] (ins_tp_nra) -- (ins_tp_nra_has); \draw[flow] (ins_tp_nra_has) -- (sen_tp_nra);
    \draw[link] (sen_tp_nra) -- (sen_tp_nra_comment);
    \draw[flow] (sen_tp_nra_comment) -- (sen_tp_nra_lit1);
    \draw[flow] (sen_tp_nra_comment) -- (sen_tp_nra_lit2);
    \draw[link] (ins_tp_ssalt) -- (ins_tp_ssalt_has); \draw[flow] (ins_tp_ssalt_has) -- (sen_tp_ssalt);
    \draw[link] (sen_tp_ssalt) -- (sen_tp_ssalt_comment);
    \draw[flow] (sen_tp_ssalt_comment) -- (sen_tp_ssalt_lit1);
    \draw[flow] (sen_tp_ssalt_comment) -- (sen_tp_ssalt_lit2);
    \draw[link] (ins_tp_tmr) -- (ins_tp_tmr_has); \draw[flow] (ins_tp_tmr_has) -- (sen_tp_tmr);
    \draw[link] (sen_tp_tmr) -- (sen_tp_tmr_comment); \draw[flow] (sen_tp_tmr_comment) -- (sen_tp_tmr_lit);
    \draw[link] (ins_tp_doris) -- (ins_tp_doris_has); \draw[flow] (ins_tp_doris_has) -- (sen_tp_doris);
    \draw[link] (sen_tp_doris) -- (sen_tp_doris_comment); \draw[flow] (sen_tp_doris_comment) -- (sen_tp_doris_lit);
    \draw[link] (ins_tp_lra) -- (ins_tp_lra_has); \draw[flow] (ins_tp_lra_has) -- (sen_tp_lra);
    \draw[link] (sen_tp_lra) -- (sen_tp_lra_comment); \draw[flow] (sen_tp_lra_comment) -- (sen_tp_lra_lit);
    \draw[link] (ins_tp_gpsdr) -- (ins_tp_gpsdr_has); \draw[flow] (ins_tp_gpsdr_has) -- (sen_tp_gpsdr);
    \draw[link] (sen_tp_gpsdr) -- (sen_tp_gpsdr_comment); \draw[flow] (sen_tp_gpsdr_comment) -- (sen_tp_gpsdr_lit);

    % Jason-1 mission
    \draw[link] (ds_j1) -- (ds_j1_gen); \draw[flow] (ds_j1_gen) -- (act_j1);
    \draw[link] (act_j1) -- (act_j1_comment); \draw[flow] (act_j1_comment) -- (act_j1_comment_lit);
    \draw[link] (act_j1) -- (act_j1_url); \draw[flow] (act_j1_url) -- (act_j1_url_lit);
    \draw[link] (act_j1) -- (act_j1_assoc);
    \draw[flow] (act_j1_assoc) -- (nasa_j1);
    \draw[flow] (act_j1_assoc) -- (cnes_j1);
    \draw[link] (nasa_j1) -- (nasa_j1_title); \draw[flow] (nasa_j1_title) -- (nasa_j1_title_lit);
    \draw[link] (cnes_j1) -- (cnes_j1_title); \draw[flow] (cnes_j1_title) -- (cnes_j1_title_lit);
    \draw[link] (act_j1) -- (act_j1_used); \draw[flow] (act_j1_used) -- (plat_j1);
    \draw[flow] (j1_platfrom) -- (plat_j1);
    \draw[link] (ins_j1_pos) -- (j1_platfrom);
    \draw[link] (ins_j1_jmr) -- (j1_platfrom);
    \draw[link] (ins_j1_doris) -- (j1_platfrom);
    \draw[link] (ins_j1_lra) -- (j1_platfrom);
    \draw[link] (ins_j1_trsr) -- (j1_platfrom);
    \draw[link] (ins_j1_pos) -- (ins_j1_pos_has); \draw[flow] (ins_j1_pos_has) -- (sen_j1_pos);
    \draw[link] (sen_j1_pos) -- (sen_j1_pos_comment); \draw[flow] (sen_j1_pos_comment) -- (sen_j1_pos_lit);
    \draw[link] (ins_j1_jmr) -- (ins_j1_jmr_has); \draw[flow] (ins_j1_jmr_has) -- (sen_j1_jmr);
    \draw[link] (sen_j1_jmr) -- (sen_j1_jmr_comment); \draw[flow] (sen_j1_jmr_comment) -- (sen_j1_jmr_lit);
    \draw[link] (ins_j1_doris) -- (ins_j1_doris_has); \draw[flow] (ins_j1_doris_has) -- (sen_j1_doris);
    \draw[link] (sen_j1_doris) -- (sen_j1_doris_comment); \draw[flow] (sen_j1_doris_comment) -- (sen_j1_doris_lit);
    \draw[link] (ins_j1_lra) -- (ins_j1_lra_has); \draw[flow] (ins_j1_lra_has) -- (sen_j1_lra);
    \draw[link] (sen_j1_lra) -- (sen_j1_lra_comment); \draw[flow] (sen_j1_lra_comment) -- (sen_j1_lra_lit);
    \draw[link] (ins_j1_trsr) -- (ins_j1_trsr_has); \draw[flow] (ins_j1_trsr_has) -- (sen_j1_trsr);
    \draw[link] (sen_j1_trsr) -- (sen_j1_trsr_comment); \draw[flow] (sen_j1_trsr_comment) -- (sen_j1_trsr_lit);

    % OSTM/Jason-2 mission
    \draw[link] (ds_j2) -- (ds_j2_gen); \draw[flow] (ds_j2_gen) -- (act_j2);
    \draw[link] (act_j2) -- (act_j2_comment); \draw[flow] (act_j2_comment) -- (act_j2_comment_lit);
    \draw[link] (act_j2) -- (act_j2_url); \draw[flow] (act_j2_url) -- (act_j2_url_lit);
    \draw[link] (act_j2) -- (act_j2_assoc);
    \draw[flow] (act_j2_assoc) -- (nasa_j2);
    \draw[flow] (act_j2_assoc) -- (cnes_j2);
    \draw[flow] (act_j2_assoc) -- (noaa_j2);
    \draw[flow] (act_j2_assoc) -- (eumetsat);
    \draw[link] (nasa_j2) -- (nasa_j2_title); \draw[flow] (nasa_j2_title) -- (nasa_j2_title_lit);
    \draw[link] (cnes_j2) -- (cnes_j2_title); \draw[flow] (cnes_j2_title) -- (cnes_j2_title_lit);
    \draw[link] (noaa_j2) -- (noaa_j2_title); \draw[flow] (noaa_j2_title) -- (noaa_j2_title_lit);
    \draw[link] (eumetsat) -- (eumetsat_title); \draw[flow] (eumetsat_title) -- (eumetsat_title_lit);
    \draw[link] (act_j2) -- (act_j2_used); \draw[flow] (act_j2_used) -- (plat_j2);
    \draw[flow] (j2_platfrom) -- (plat_j2);
    \draw[link] (ins_j2_pos) -- (j2_platfrom);
    \draw[link] (ins_j2_amr) -- (j2_platfrom);
    \draw[link] (ins_j2_doris) -- (j2_platfrom);
    \draw[link] (ins_j2_t2l2) -- (j2_platfrom);
    \draw[link] (ins_j2_lpt) -- (j2_platfrom);
    \draw[link] (ins_j2_carmen) -- (j2_platfrom);
    \draw[link] (ins_j2_lra) -- (j2_platfrom);
    \draw[link] (ins_j2_gpsp) -- (j2_platfrom);
    \draw[link] (ins_j2_pos) -- (ins_j2_pos_has); \draw[flow] (ins_j2_pos_has) -- (sen_j2_pos);
    \draw[link] (sen_j2_pos) -- (sen_j2_pos_comment); \draw[flow] (sen_j2_pos_comment) -- (sen_j2_pos_lit);
    \draw[link] (ins_j2_amr) -- (ins_j2_amr_has); \draw[flow] (ins_j2_amr_has) -- (sen_j2_amr);
    \draw[link] (sen_j2_amr) -- (sen_j2_amr_comment); \draw[flow] (sen_j2_amr_comment) -- (sen_j2_amr_lit);
    \draw[link] (ins_j2_doris) -- (ins_j2_doris_has); \draw[flow] (ins_j2_doris_has) -- (sen_j2_doris);
    \draw[link] (sen_j2_doris) -- (sen_j2_doris_comment); \draw[flow] (sen_j2_doris_comment) -- (sen_j2_doris_lit);
    \draw[link] (ins_j2_t2l2) -- (ins_j2_t2l2_has); \draw[flow] (ins_j2_t2l2_has) -- (sen_j2_t2l2);
    \draw[link] (sen_j2_t2l2) -- (sen_j2_t2l2_comment); \draw[flow] (sen_j2_t2l2_comment) -- (sen_j2_t2l2_lit);
    \draw[link] (ins_j2_lpt) -- (ins_j2_lpt_has); \draw[flow] (ins_j2_lpt_has) -- (sen_j2_lpt);
    \draw[link] (sen_j2_lpt) -- (sen_j2_lpt_comment); \draw[flow] (sen_j2_lpt_comment) -- (sen_j2_lpt_lit);
    \draw[link] (ins_j2_carmen) -- (ins_j2_carmen_has); \draw[flow] (ins_j2_carmen_has) -- (sen_j2_carmen);
    \draw[link] (sen_j2_carmen) -- (sen_j2_carmen_comment); \draw[flow] (sen_j2_carmen_comment) -- (sen_j2_carmen_lit);
    \draw[link] (ins_j2_lra) -- (ins_j2_lra_has); \draw[flow] (ins_j2_lra_has) -- (sen_j2_lra);
    \draw[link] (sen_j2_lra) -- (sen_j2_lra_comment); \draw[flow] (sen_j2_lra_comment) -- (sen_j2_lra_lit);
    \draw[link] (ins_j2_gpsp) -- (ins_j2_gpsp_has); \draw[flow] (ins_j2_gpsp_has) -- (sen_j2_gpsp);
    \draw[link] (sen_j2_gpsp) -- (sen_j2_gpsp_comment); \draw[flow] (sen_j2_gpsp_comment) -- (sen_j2_gpsp_lit);

    % Sea level rise scenarios report
    \draw[link] (gslr) -- (gslr_title); \draw[flow] (gslr_title) -- (gslr_title_lit);
    \draw[link] (gslr) -- (gslr_issued); \draw[flow] (gslr_issued) -- (gslr_issued_lit);
    \draw[link] (gslr) -- (gslr_attr);
    \draw[flow] (gslr_attr) -- (paris);
    \draw[flow] (gslr_attr) -- (bromirski);
    \draw[flow] (gslr_attr) -- (burkett);
    \draw[flow] (gslr_attr) -- (cayan);
    \draw[flow] (gslr_attr) -- (culver);
    \draw[flow] (gslr_attr) -- (hall);
    \draw[flow] (gslr_attr) -- (horton_r);
    \draw[flow] (gslr_attr) -- (knuuti);
    \draw[flow] (gslr_attr) -- (moss);
    \draw[flow] (gslr_attr) -- (obeysekera);
    \draw[flow] (gslr_attr) -- (sallenger);
    \draw[flow] (gslr_attr) -- (weiss);
    \draw[link] (gslr) -- (gslr_der);
    \draw[flow] (gslr_der) -- (ds1041);
    \draw[flow] (gslr_der) -- (ds1042);
    \draw[link] (ds1041) -- (ds1041_comment); \draw[flow] (ds1041_comment) -- (ds1041_comment_lit);
    \draw[link] (ds1041) -- (ds1041_prod); \draw[flow] (ds1041_prod) -- (noaa_b);
    \draw[link] (noaa_b) -- (noaa_b_title); \draw[flow] (noaa_b_title) -- (noaa_b_title_lit);
    \draw[link] (ds1041) -- (ds1041_center); \draw[flow] (ds1041_center) -- (coops);
    \draw[link] (coops) -- (coops_title); \draw[flow] (coops_title) -- (coops_title_lit);
    \draw[link] (ds1041) -- (ds1041_url); \draw[flow] (ds1041_url) -- (ds1041_url_lit);
    \draw[link] (ds1042) -- (ds1042_comment); \draw[flow] (ds1042_comment) -- (ds1042_comment_lit);
    \end{pgfonlayer}

\end{tikzpicture}
\end{document}
